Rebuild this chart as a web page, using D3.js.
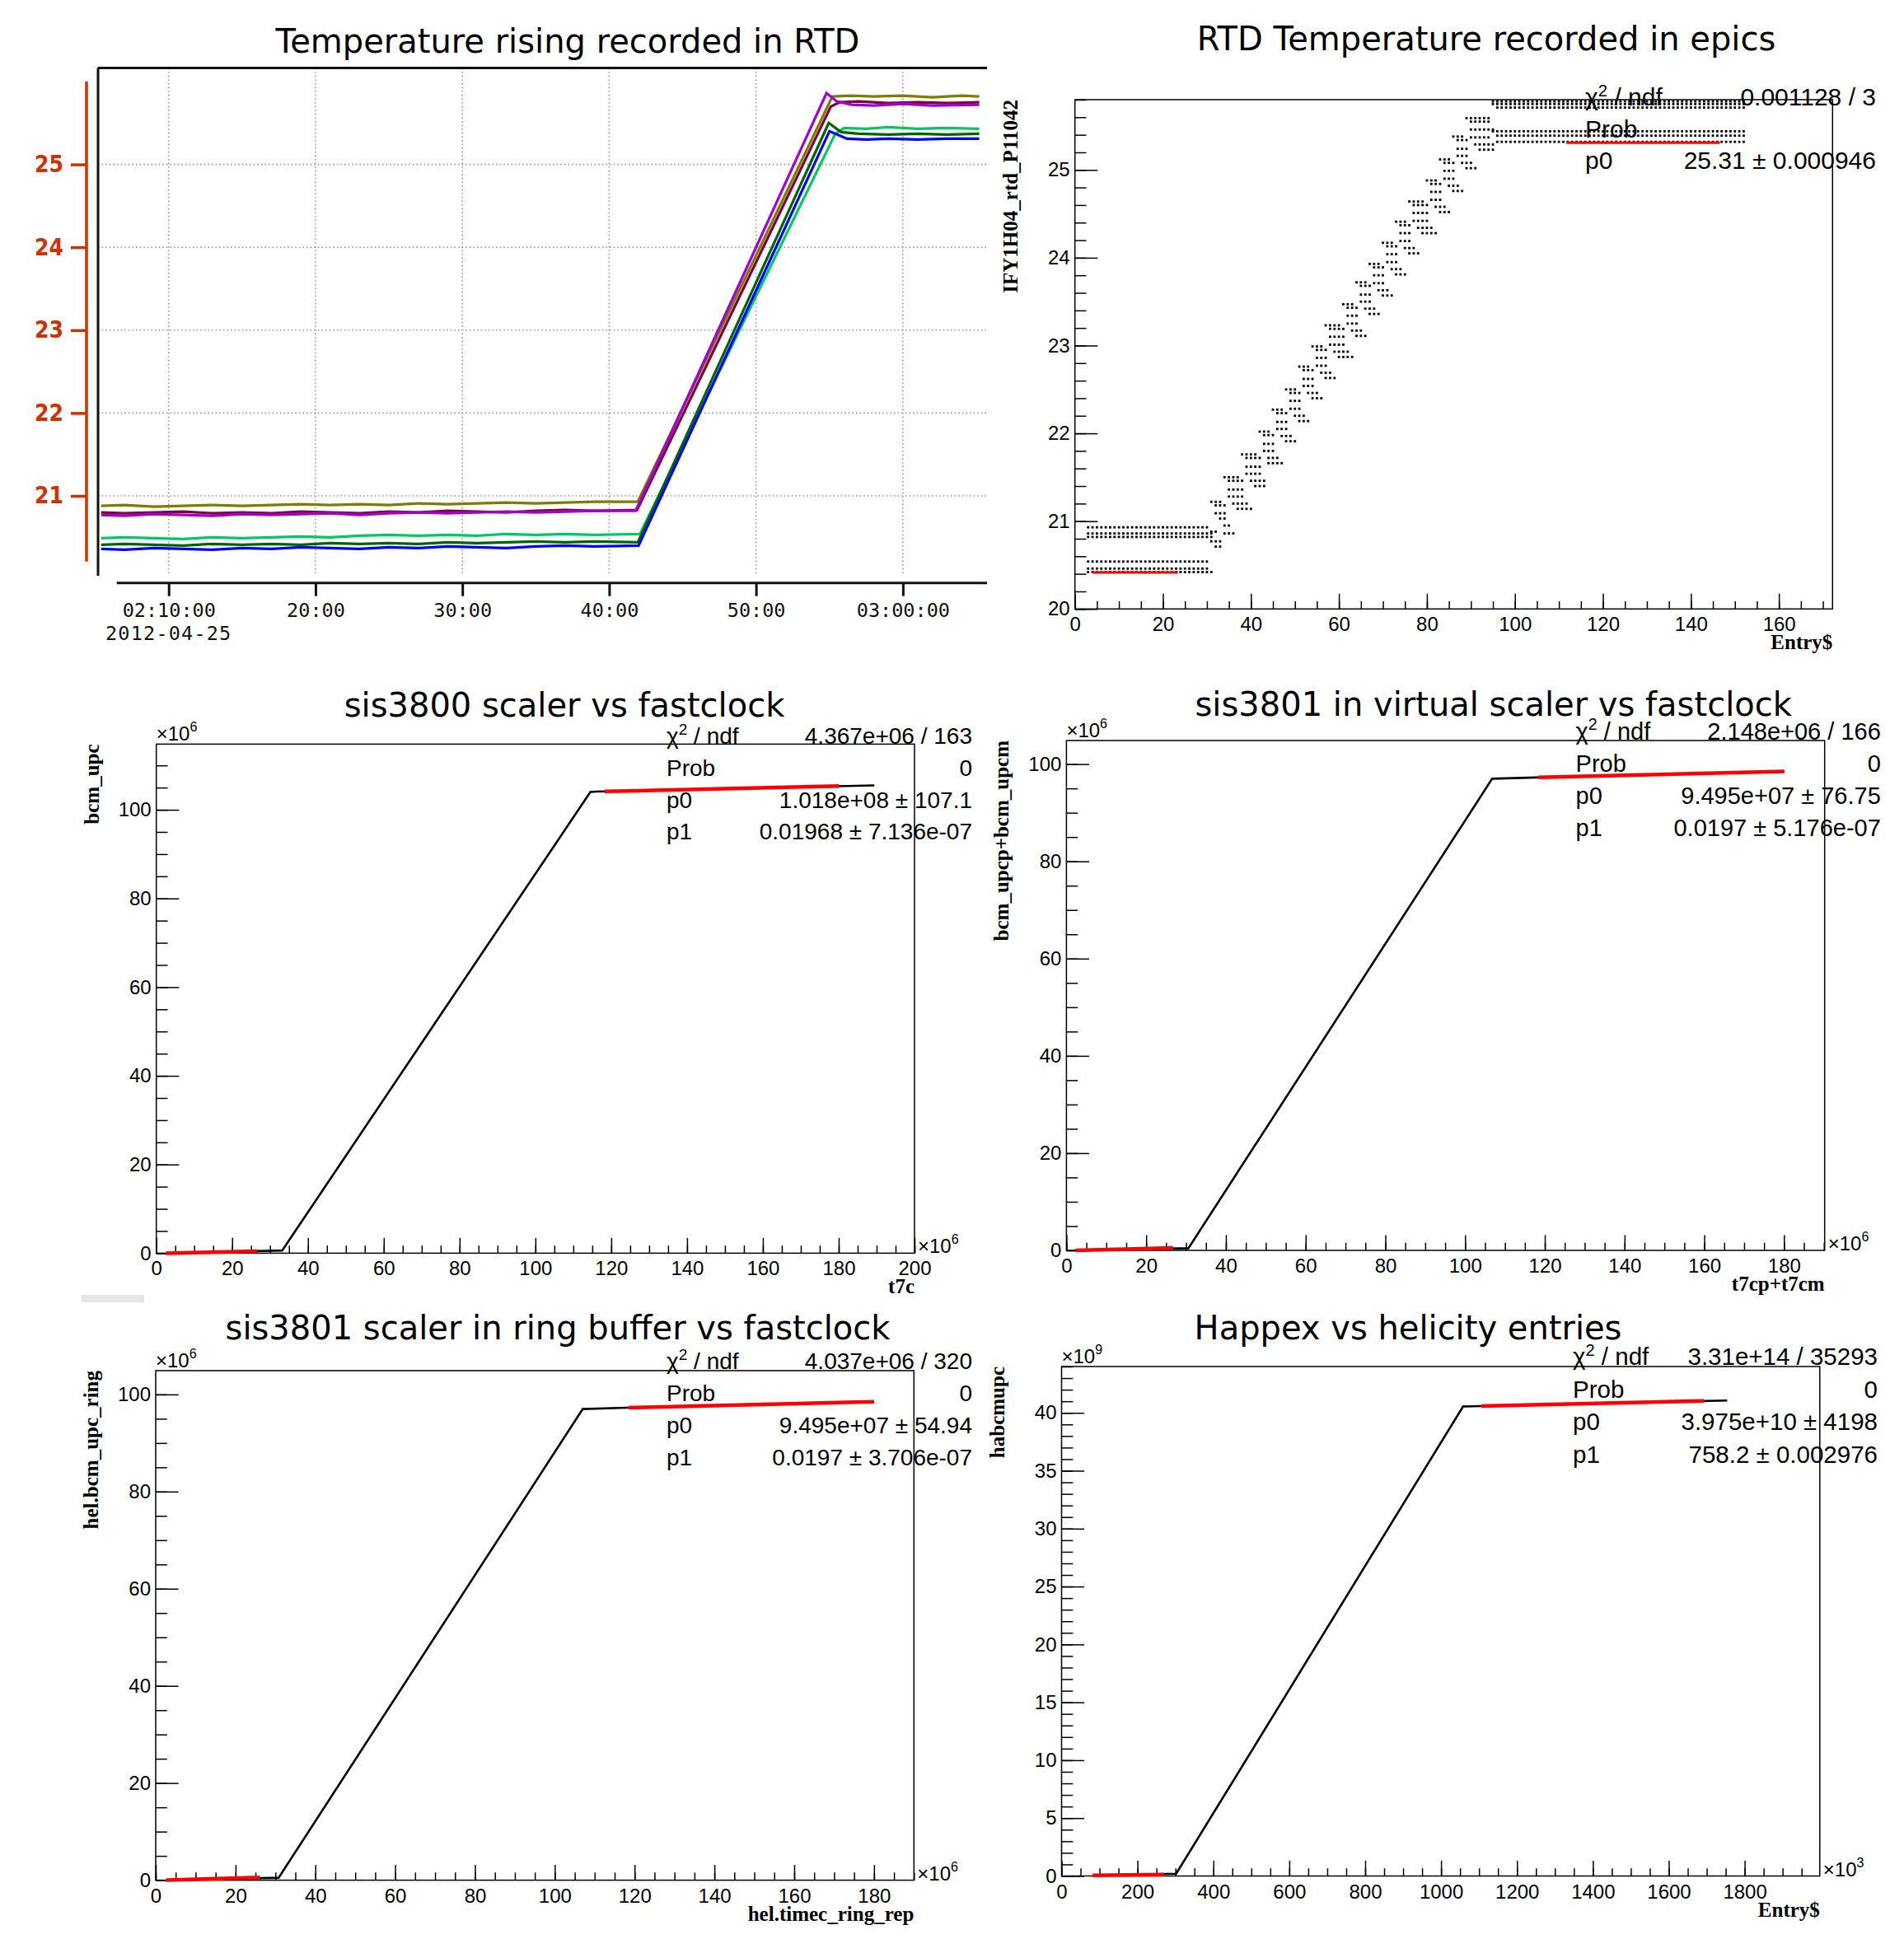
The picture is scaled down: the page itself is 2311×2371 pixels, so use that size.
<!DOCTYPE html>
<html>
<head>
<meta charset="utf-8">
<script src="https://cdn.jsdelivr.net/npm/d3@7"></script>
<style>
  body { margin: 0; background: #fff; }
  svg { display: block; }
</style>
</head>
<body>
<svg id="chart" width="2311" height="2371"></svg>
<script>
// ---------------- data ----------------

// panel 1 : RTD temperatures, [minutes after 02:00:00 on 2012-04-25, degC]
const rtdOlive  = [[5.4,20.88],[7,20.89],[9,20.87],[11,20.88],[13,20.89],[15,20.88],[17,20.89],[19,20.90],[21,20.89],[23,20.90],[25,20.89],[27,20.91],[29,20.90],[31,20.91],[33,20.92],[35,20.91],[37,20.92],[39,20.93],[41.95,20.93],[55.2,25.82],[56.5,25.83],[58,25.82],[60,25.83],[62,25.81],[64,25.83],[65.2,25.82]];
const rtdMaroon = [[5.4,20.80],[7,20.79],[9,20.80],[11,20.81],[13,20.79],[15,20.80],[17,20.79],[19,20.81],[21,20.80],[23,20.79],[25,20.81],[27,20.80],[29,20.82],[31,20.81],[33,20.80],[35,20.82],[37,20.83],[39,20.82],[41.9,20.83],[55.1,25.70],[55.7,25.75],[57,25.76],[59,25.74],[61,25.75],[63,25.74],[65.2,25.75]];
const rtdPurple = [[5.4,20.77],[7,20.76],[9,20.78],[11,20.77],[13,20.76],[15,20.78],[17,20.77],[19,20.78],[21,20.79],[23,20.77],[25,20.79],[27,20.80],[29,20.79],[31,20.80],[33,20.81],[35,20.80],[37,20.81],[39,20.82],[41.8,20.82],[54.8,25.86],[55.5,25.76],[56.5,25.72],[58,25.71],[60,25.73],[62,25.71],[65.2,25.72]];
const rtdGreen  = [[5.4,20.49],[7,20.50],[9,20.49],[11,20.48],[13,20.50],[15,20.49],[17,20.50],[19,20.51],[21,20.50],[23,20.52],[25,20.53],[27,20.52],[29,20.53],[31,20.52],[33,20.54],[35,20.53],[37,20.54],[39,20.53],[42.1,20.54],[55.4,25.37],[56.0,25.44],[57.5,25.43],[59,25.45],[61,25.43],[63,25.44],[65.2,25.43]];
const rtdDkGreen= [[5.4,20.41],[7,20.42],[9,20.41],[11,20.40],[13,20.42],[15,20.41],[17,20.42],[19,20.41],[21,20.43],[23,20.42],[25,20.43],[27,20.42],[29,20.44],[31,20.43],[33,20.44],[35,20.45],[37,20.44],[39,20.45],[41.95,20.44],[54.95,25.50],[55.8,25.39],[57,25.37],[59,25.36],[61,25.37],[63,25.36],[65.2,25.37]];
const rtdBlue   = [[5.4,20.36],[7,20.35],[9,20.37],[11,20.36],[13,20.35],[15,20.37],[17,20.36],[19,20.38],[21,20.37],[23,20.36],[25,20.38],[27,20.37],[29,20.39],[31,20.38],[33,20.37],[35,20.39],[37,20.40],[39,20.39],[42.0,20.40],[55.0,25.40],[56.2,25.31],[57.5,25.30],[59,25.31],[61,25.30],[63,25.31],[65.2,25.31]];
const rtdTimeTicks  = [10, 20, 30, 40, 50, 60];
const rtdTimeLabels = ["02:10:00", "20:00", "30:00", "40:00", "50:00", "03:00:00"];
const rtdDateLabel  = "2012-04-25";
const rtdTempTicks  = [21, 22, 23, 24, 25];

// panel 2 : IFY1H04_rtd_P11042 vs Entry$, per channel [first entry, value] (value holds until next step)
const epicsCh1 = [[3,20.93],[31,21.22],[34,21.50],[38,21.76],[42,22.02],[45,22.27],[48,22.50],[51,22.76],[54,22.99],[57,23.23],[61,23.47],[64,23.72],[67,23.93],[70,24.17],[73,24.41],[76,24.64],[80,24.88],[83,25.12],[86,25.38],[89,25.59],[95,25.78]];
const epicsCh2 = [[3,20.86],[32,21.18],[35,21.46],[39,21.72],[43,21.98],[46,22.23],[49,22.46],[52,22.72],[55,22.95],[58,23.19],[62,23.43],[65,23.68],[68,23.89],[71,24.13],[74,24.37],[77,24.60],[81,24.84],[84,25.08],[87,25.34],[90,25.55],[95,25.75]];
const epicsCh3 = [[3,20.82],[32,21.09],[35,21.36],[39,21.62],[43,21.88],[46,22.13],[49,22.37],[52,22.62],[55,22.86],[58,23.10],[62,23.34],[65,23.58],[68,23.80],[71,24.04],[74,24.28],[77,24.51],[81,24.75],[84,24.99],[87,25.24],[90,25.46],[96,25.71]];
const epicsCh4 = [[3,20.54],[31,20.88],[33,21.03],[35,21.28],[39,21.54],[43,21.80],[46,22.05],[49,22.28],[52,22.54],[55,22.77],[58,23.01],[62,23.25],[65,23.50],[68,23.71],[71,23.95],[74,24.19],[77,24.42],[81,24.66],[84,24.90],[87,25.16],[90,25.37],[95,25.44]];
const epicsCh5 = [[3,20.46],[31,20.77],[34,20.95],[36,21.20],[40,21.46],[44,21.72],[47,21.97],[50,22.20],[53,22.46],[56,22.69],[59,22.93],[63,23.17],[66,23.42],[69,23.63],[72,23.87],[75,24.11],[78,24.34],[82,24.58],[85,24.82],[88,25.08],[91,25.29],[96,25.39]];
const epicsCh6 = [[3,20.42],[32,20.71],[34,20.86],[37,21.14],[41,21.40],[44,21.66],[48,21.91],[51,22.14],[54,22.40],[57,22.63],[60,22.87],[64,23.11],[67,23.36],[70,23.57],[73,23.81],[76,24.05],[79,24.28],[83,24.52],[86,24.76],[89,25.02],[92,25.23],[96,25.32]];
const epicsLastEntry = 152;
const epicsFitLoX = [4, 23.4],     epicsFitLoY = [20.415, 20.415];
const epicsFitHiX = [111.7, 146.6], epicsFitHiY = [25.31, 25.31];
const epicsXTicks = [0, 20, 40, 60, 80, 100, 120, 140, 160];
const epicsYTicks = [20, 21, 22, 23, 24, 25];
const epicsStats = [["chi2", "0.001128 / 3"], ["Prob", ""], ["p0", "25.31 \u00b1 0.000946"]];

// panel 3 : bcm_upc vs t7c (x10^6)
const s3800X = [2.6, 15, 33.2, 114.5, 116, 189.4];
const s3800Y = [0.0, 0.25, 0.6, 104.0, 104.1, 105.5];
const s3800FitLoX = [2.6, 26.6],    s3800FitLoY = [0.0, 0.45];
const s3800FitHiX = [118.3, 180.1], s3800FitHiY = [104.13, 105.34];
const s3800XTicks = [0, 20, 40, 60, 80, 100, 120, 140, 160, 180, 200];
const s3800YTicks = [0, 20, 40, 60, 80, 100];
const s3800Stats = [["chi2", "4.367e+06 / 163"], ["Prob", "0"], ["p0", "1.018e+08 \u00b1 107.1"], ["p1", "0.01968 \u00b1 7.136e-07"]];

// panel 4 : bcm_upcp+bcm_upcm vs t7cp+t7cm (x10^6)
const virtX = [2.3, 15, 30.6, 106.8, 117.8, 180.1];
const virtY = [0.0, 0.2, 0.45, 97.0, 97.25, 98.5];
const virtFitLoX = [2.3, 26.8],    virtFitLoY = [0.0, 0.5];
const virtFitHiX = [118.4, 180.1], virtFitHiY = [97.28, 98.5];
const virtXTicks = [0, 20, 40, 60, 80, 100, 120, 140, 160, 180];
const virtYTicks = [0, 20, 40, 60, 80, 100];
const virtStats = [["chi2", "2.148e+06 / 166"], ["Prob", "0"], ["p0", "9.495e+07 \u00b1 76.75"], ["p1", "0.0197 \u00b1 5.176e-07"]];

// panel 5 : hel.bcm_upc_ring vs hel.timec_ring_rep (x10^6)
const ringX = [2.6, 15, 30.8, 107.0, 118.0, 180.0];
const ringY = [0.0, 0.22, 0.5, 97.0, 97.27, 98.5];
const ringFitLoX = [2.6, 26.1],    ringFitLoY = [0.0, 0.55];
const ringFitHiX = [118.5, 180.0], ringFitHiY = [97.28, 98.5];
const ringXTicks = [0, 20, 40, 60, 80, 100, 120, 140, 160, 180];
const ringYTicks = [0, 20, 40, 60, 80, 100];
const ringStats = [["chi2", "4.037e+06 / 320"], ["Prob", "0"], ["p0", "9.495e+07 \u00b1 54.94"], ["p1", "0.0197 \u00b1 3.706e-07"]];

// panel 6 : habcmupc (x10^9) vs Entry$ (x10^3)
const happexX = [82, 200, 302, 1058, 1106, 1754];
const happexY = [0.05, 0.12, 0.2, 40.55, 40.59, 41.07];
const happexFitLoX = [82, 270],     happexFitLoY = [0.05, 0.12];
const happexFitHiX = [1106, 1693],  happexFitHiY = [40.59, 41.03];
const happexXTicks = [0, 200, 400, 600, 800, 1000, 1200, 1400, 1600, 1800];
const happexYTicks = [0, 5, 10, 15, 20, 25, 30, 35, 40];
const happexStats = [["chi2", "3.31e+14 / 35293"], ["Prob", "0"], ["p0", "3.975e+10 \u00b1  4198"], ["p1", "758.2 \u00b1 0.002976"]];

// ---------------- drawing ----------------
const svg = d3.select("#chart");
const titleFont = "'DejaVu Sans', Verdana, sans-serif";
const rootFont = "'Liberation Sans', Arial, Helvetica, sans-serif";
const serifFont = "'Liberation Serif', 'Times New Roman', serif";
const monoFont = "'DejaVu Sans Mono', 'Liberation Mono', monospace";
const rtdRed = "#cc3300";

svg.append("rect").attr("width", 2311).attr("height", 2371).attr("fill", "#fff");

// ---- panel 1 : screenshot style strip chart
(function drawRtd() {
  const g = svg.append("g");
  const t0 = new Date(2012, 3, 25, 2, 0, 0);
  const toDate = m => new Date(t0.getTime() + m * 60000);
  const left = 119, right = 1198, top = 82.6, bottom = 699;

  const x = d3.scaleTime().domain([toDate(5.19), toDate(65.73)]).range([left, right]);
  const y = d3.scaleLinear().domain([20, 26]).range([702.6, 99]);

  g.append("text")
    .attr("x", 689).attr("y", 64)
    .attr("text-anchor", "middle")
    .attr("font-family", titleFont).attr("font-size", 40)
    .text("Temperature rising recorded in RTD");

  // dotted grid
  g.selectAll(".hgrid").data(rtdTempTicks).enter().append("line")
    .attr("x1", left).attr("x2", right)
    .attr("y1", d => y(d)).attr("y2", d => y(d))
    .attr("stroke", "#9a9a9a").attr("stroke-width", 1.6).attr("stroke-dasharray", "1.6,3");
  g.selectAll(".vgrid").data(rtdTimeTicks).enter().append("line")
    .attr("x1", d => x(toDate(d))).attr("x2", d => x(toDate(d)))
    .attr("y1", top).attr("y2", bottom - 2)
    .attr("stroke", "#9a9a9a").attr("stroke-width", 1.6).attr("stroke-dasharray", "1.6,3");

  // frame (left and top only)
  g.append("line").attr("x1", left).attr("x2", left).attr("y1", top).attr("y2", bottom)
    .attr("stroke", "#111").attr("stroke-width", 3);
  g.append("line").attr("x1", left).attr("x2", right).attr("y1", top).attr("y2", top)
    .attr("stroke", "#111").attr("stroke-width", 3);

  // red temperature axis
  g.append("line").attr("x1", 105).attr("x2", 105).attr("y1", y(26)).attr("y2", 681.7)
    .attr("stroke", rtdRed).attr("stroke-width", 3.5);
  const ya = g.append("g").attr("transform", "translate(105,0)")
    .call(d3.axisLeft(y).tickValues(rtdTempTicks).tickSize(19).tickPadding(9).tickFormat(d3.format("d")));
  ya.select(".domain").remove();
  ya.selectAll("line").attr("stroke", rtdRed).attr("stroke-width", 3.5);
  ya.selectAll("text")
    .attr("fill", rtdRed)
    .attr("font-family", "'DejaVu Sans Condensed', 'DejaVu Sans', sans-serif")
    .attr("font-stretch", "condensed")
    .attr("font-weight", "bold").attr("font-size", 28);

  // time axis
  g.append("line").attr("x1", 141.7).attr("x2", right).attr("y1", 707.7).attr("y2", 707.7)
    .attr("stroke", "#111").attr("stroke-width", 3);
  const xa = g.append("g").attr("transform", "translate(0,707.7)")
    .call(d3.axisBottom(x).tickValues(rtdTimeTicks.map(toDate)).tickSize(16).tickPadding(9)
      .tickFormat((d, i) => rtdTimeLabels[i]));
  xa.select(".domain").remove();
  xa.selectAll("line").attr("stroke", "#111").attr("stroke-width", 3);
  xa.selectAll("text").attr("fill", "#111").attr("font-family", monoFont).attr("font-size", 23.5);
  g.append("text")
    .attr("x", x(toDate(rtdTimeTicks[0]))).attr("y", 777)
    .attr("text-anchor", "middle")
    .attr("font-family", monoFont).attr("font-size", 23.5).attr("fill", "#111")
    .attr("letter-spacing", 1.2)
    .text(rtdDateLabel);

  const line = d3.line().x(d => x(toDate(d[0]))).y(d => y(d[1]));
  const series = [
    [rtdGreen, "#00c864"],
    [rtdDkGreen, "#006400"],
    [rtdBlue, "#0000ff"],
    [rtdOlive, "#7d7d00"],
    [rtdMaroon, "#80003c"],
    [rtdPurple, "#a000d0"]
  ];
  series.forEach(s => {
    g.append("path").datum(s[0])
      .attr("d", line)
      .attr("fill", "none").attr("stroke", s[1]).attr("stroke-width", 3.2)
      .attr("stroke-linejoin", "miter");
  });
})();

// ---- generic ROOT pad
function drawRootPad(p) {
  const g = svg.append("g");
  const x = d3.scaleLinear().domain(p.xDomain).range([p.left, p.right]);
  const y = d3.scaleLinear().domain(p.yDomain).range([p.bottom, p.top]);
  const w = p.right - p.left, h = p.bottom - p.top;

  g.append("text")
    .attr("x", p.titleX).attr("y", p.titleY)
    .attr("text-anchor", "middle")
    .attr("font-family", titleFont).attr("font-size", 40)
    .text(p.title);

  g.append("rect")
    .attr("x", p.left).attr("y", p.top).attr("width", w).attr("height", h)
    .attr("fill", "none").attr("stroke", "#000").attr("stroke-width", 1.5);

  const xLen = 0.03 * h, yLen = 0.03 * w;

  // minor ticks
  const xMinor = d3.range(p.xDomain[0], p.xDomain[1] + 1e-9, p.xMinor);
  const yMinor = d3.range(p.yDomain[0], p.yDomain[1] + 1e-9, p.yMinor);
  const gxm = g.append("g").attr("transform", `translate(0,${p.bottom})`)
    .call(d3.axisBottom(x).tickValues(xMinor).tickSize(-xLen / 2).tickFormat(""));
  const gym = g.append("g").attr("transform", `translate(${p.left},0)`)
    .call(d3.axisLeft(y).tickValues(yMinor).tickSize(-yLen / 2).tickFormat(""));

  // major ticks + labels
  const gx = g.append("g").attr("transform", `translate(0,${p.bottom})`)
    .call(d3.axisBottom(x).tickValues(p.xTicks).tickSize(-xLen).tickPadding(10).tickFormat(d3.format("d")));
  const gy = g.append("g").attr("transform", `translate(${p.left},0)`)
    .call(d3.axisLeft(y).tickValues(p.yTicks).tickSize(-yLen).tickPadding(6).tickFormat(d3.format("d")));

  [gxm, gym, gx, gy].forEach(a => {
    a.select(".domain").remove();
    a.selectAll("line").attr("stroke", "#000").attr("stroke-width", 1.5);
    a.selectAll("text").attr("fill", "#000").attr("font-family", rootFont).attr("font-size", 24);
  });

  // multiplier labels
  function powerLabel(px, py, exp) {
    const t = g.append("text").attr("x", px).attr("y", py)
      .attr("font-family", rootFont).attr("font-size", 24).attr("fill", "#000");
    t.append("tspan").text("\u00d710");
    t.append("tspan").attr("dy", -11).attr("font-size", 16).text(exp);
  }
  if (p.yPow) powerLabel(p.left, p.top - 4, p.yPow);
  if (p.xPow) powerLabel(p.right + 4, p.bottom, p.xPow);

  // axis titles
  g.append("text")
    .attr("x", p.right).attr("y", p.bottom + 49)
    .attr("text-anchor", "end")
    .attr("font-family", serifFont).attr("font-weight", "bold").attr("font-size", 25)
    .text(p.xTitle);
  g.append("text")
    .attr("transform", `translate(${p.left - 70},${p.top}) rotate(-90)`)
    .attr("text-anchor", "end")
    .attr("font-family", serifFont).attr("font-weight", "bold").attr("font-size", 25)
    .text(p.yTitle);

  return { g, x, y };
}

function drawStats(g, p) {
  const fs = p.statsFont;
  p.stats.forEach((row, i) => {
    const yb = p.statsY0 + i * p.statsDy;
    const lab = g.append("text").attr("x", p.statsX).attr("y", yb)
      .attr("font-family", rootFont).attr("font-size", fs).attr("fill", "#000");
    if (row[0] === "chi2") {
      lab.append("tspan").text("\u03c7");
      lab.append("tspan").attr("dy", -fs * 0.38).attr("font-size", fs * 0.68).text("2");
      lab.append("tspan").attr("dy", fs * 0.38).text(" / ndf");
    } else {
      lab.text(row[0]);
    }
    g.append("text").attr("x", p.statsRight).attr("y", yb)
      .attr("text-anchor", "end")
      .attr("font-family", rootFont).attr("font-size", fs).attr("fill", "#000")
      .text(row[1]);
  });
}

function drawFitLine(pad, xs, ys, width) {
  const pts = xs.map((v, i) => [v, ys[i]]);
  pad.g.append("path").datum(pts)
    .attr("d", d3.line().x(d => pad.x(d[0])).y(d => pad.y(d[1])))
    .attr("fill", "none").attr("stroke", "#ff0000").attr("stroke-width", width);
}

function drawDataLine(pad, xs, ys) {
  const pts = xs.map((v, i) => [v, ys[i]]);
  pad.g.append("path").datum(pts)
    .attr("d", d3.line().x(d => pad.x(d[0])).y(d => pad.y(d[1])))
    .attr("fill", "none").attr("stroke", "#000").attr("stroke-width", 2.6);
}

// ---- panel 2 : epics RTD scatter
(function () {
  const p = {
    title: "RTD Temperature recorded in epics", titleX: 1804, titleY: 61,
    left: 1304.7, right: 2224.3, top: 121, bottom: 739.3,
    xDomain: [0, 172.2], yDomain: [20, 25.8],
    xTicks: epicsXTicks, xMinor: 5, yTicks: epicsYTicks, yMinor: 0.2,
    xTitle: "Entry$", yTitle: "IFY1H04_rtd_P11042",
    stats: epicsStats, statsX: 1924, statsRight: 2277, statsY0: 128, statsDy: 38.5, statsFont: 30
  };
  const pad = drawRootPad(p);
  const dots = [];
  [epicsCh1, epicsCh2, epicsCh3, epicsCh4, epicsCh5, epicsCh6].forEach(steps => {
    steps.forEach((s, i) => {
      const last = i + 1 < steps.length ? steps[i + 1][0] - 1 : epicsLastEntry;
      for (let e = s[0]; e <= last; e++) dots.push([e, s[1]]);
    });
  });
  pad.g.selectAll(".dot").data(dots).enter().append("rect")
    .attr("x", d => pad.x(d[0]) - 1.4).attr("y", d => pad.y(d[1]) - 1.4)
    .attr("width", 2.8).attr("height", 2.8).attr("fill", "#000");
  drawFitLine(pad, epicsFitLoX, epicsFitLoY, 3);
  drawFitLine(pad, epicsFitHiX, epicsFitHiY, 3);
  drawStats(pad.g, p);
})();

// ---- panels 3-6 : scaler line plots
const linePads = [
  {
    title: "sis3800 scaler vs fastclock", titleX: 685, titleY: 870,
    left: 189.7, right: 1110, top: 903.4, bottom: 1521.4,
    xDomain: [0, 200], yDomain: [0, 114.8],
    xTicks: s3800XTicks, xMinor: 5, yTicks: s3800YTicks, yMinor: 5,
    xTitle: "t7c", yTitle: "bcm_upc", xPow: "6", yPow: "6",
    stats: s3800Stats, statsX: 809, statsRight: 1180, statsY0: 903, statsDy: 38.8, statsFont: 28,
    lx: s3800X, ly: s3800Y, fits: [[s3800FitLoX, s3800FitLoY], [s3800FitHiX, s3800FitHiY]]
  },
  {
    title: "sis3801 in virtual scaler vs fastclock", titleX: 1812.7, titleY: 868.5,
    left: 1294.4, right: 2214.7, top: 899, bottom: 1518,
    xDomain: [0, 190.2], yDomain: [0, 104.85],
    xTicks: virtXTicks, xMinor: 5, yTicks: virtYTicks, yMinor: 5,
    xTitle: "t7cp+t7cm", yTitle: "bcm_upcp+bcm_upcm", xPow: "6", yPow: "6",
    stats: virtStats, statsX: 1912.6, statsRight: 2282.8, statsY0: 897.5, statsDy: 39, statsFont: 29,
    lx: virtX, ly: virtY, fits: [[virtFitLoX, virtFitLoY], [virtFitHiX, virtFitHiY]]
  },
  {
    title: "sis3801 scaler in ring buffer vs fastclock", titleX: 677, titleY: 1626,
    left: 189, right: 1109.3, top: 1664, bottom: 2282.6,
    xDomain: [0, 190], yDomain: [0, 104.9],
    xTicks: ringXTicks, xMinor: 5, yTicks: ringYTicks, yMinor: 5,
    xTitle: "hel.timec_ring_rep", yTitle: "hel.bcm_upc_ring", xPow: "6", yPow: "6",
    stats: ringStats, statsX: 809, statsRight: 1180, statsY0: 1662, statsDy: 39, statsFont: 28,
    lx: ringX, ly: ringY, fits: [[ringFitLoX, ringFitLoY], [ringFitHiX, ringFitHiY]]
  },
  {
    title: "Happex vs helicity entries", titleX: 1709, titleY: 1626,
    left: 1288.5, right: 2208.8, top: 1659, bottom: 2277.5,
    xDomain: [0, 1998], yDomain: [0, 44],
    xTicks: happexXTicks, xMinor: 50, yTicks: happexYTicks, yMinor: 1,
    xTitle: "Entry$", yTitle: "habcmupc", xPow: "3", yPow: "9",
    stats: happexStats, statsX: 1909, statsRight: 2279, statsY0: 1657, statsDy: 39.5, statsFont: 29.5,
    lx: happexX, ly: happexY, fits: [[happexFitLoX, happexFitLoY], [happexFitHiX, happexFitHiY]]
  }
];

linePads.forEach(p => {
  const pad = drawRootPad(p);
  drawDataLine(pad, p.lx, p.ly);
  p.fits.forEach(f => drawFitLine(pad, f[0], f[1], 4.5));
  drawStats(pad.g, p);
});

// small grey bar left over from the page capture
svg.append("rect").attr("x", 99).attr("y", 1572).attr("width", 76).attr("height", 9).attr("fill", "#e6e6e6");
</script>
</body>
</html>
